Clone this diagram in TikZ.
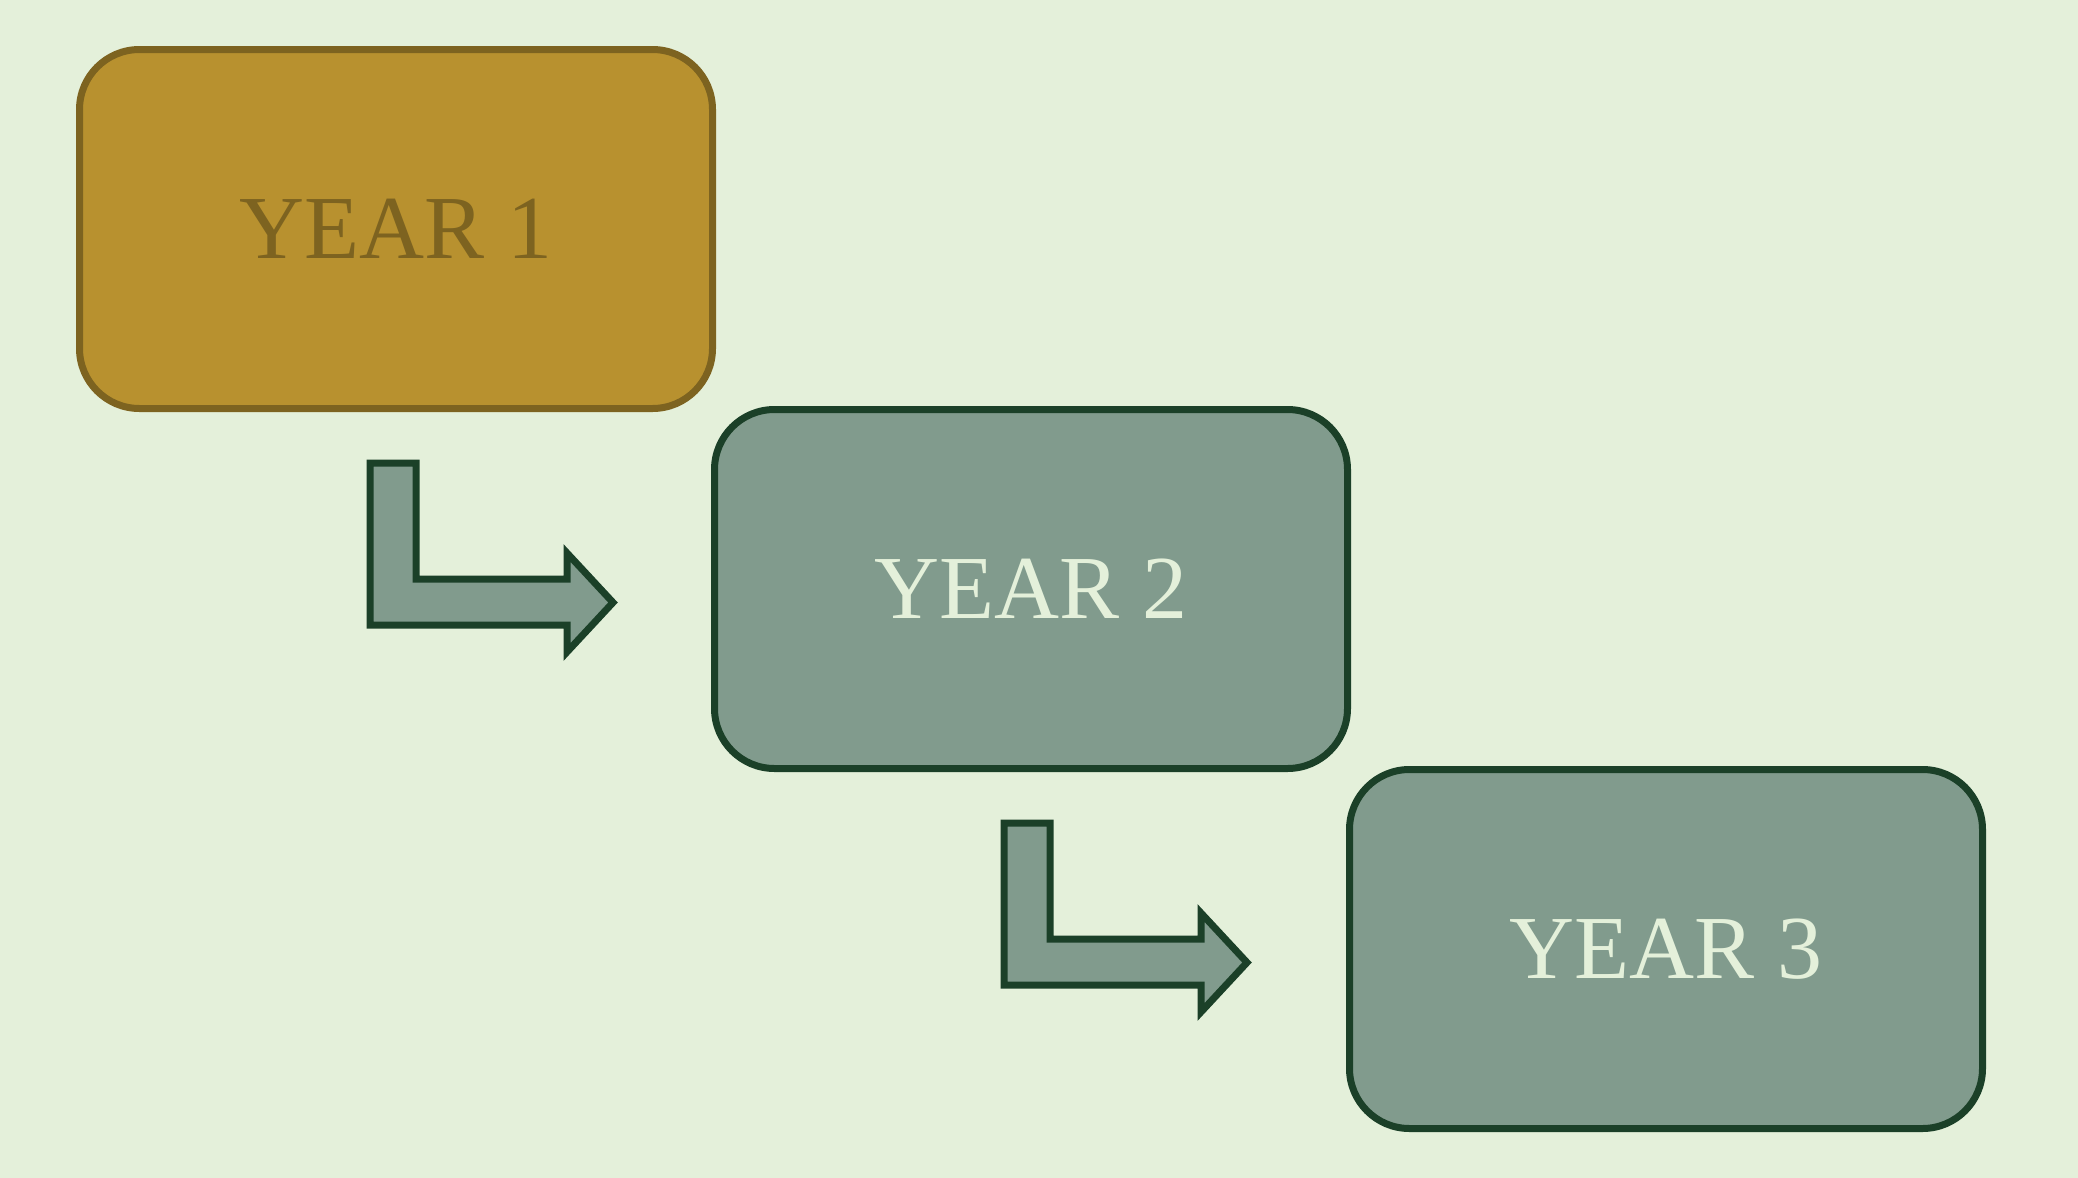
\documentclass[tikz,border=0pt]{standalone}
\usepackage{fontspec}
\setmainfont{Liberation Serif}
\definecolor{bgc}{HTML}{E4F0DA}
\definecolor{goldfill}{HTML}{B8912F}
\definecolor{golddraw}{HTML}{7D6320}
\definecolor{sagefill}{HTML}{819B8D}
\definecolor{sagedraw}{HTML}{1B4028}
\tikzset{
  yearbox/.style={draw, line width=7pt, rounded corners=60pt,
    minimum width=633pt, minimum height=359pt, inner sep=0pt,
    font=\fontsize{90}{100}\selectfont},
  goldbox/.style={yearbox, fill=goldfill, draw=golddraw, text=golddraw},
  sagebox/.style={yearbox, fill=sagefill, draw=sagedraw, text=bgc},
  bentarrow/.style={fill=sagefill, draw=sagedraw, line width=7pt, miter limit=10}
}
\begin{document}
\begin{tikzpicture}[x=1pt,y=-1pt]
  \fill[bgc] (0,0) rectangle (2078,1178);
  \useasboundingbox (0,0) rectangle (2078,1178);
  \node[goldbox] (y1) at (396,229) {YEAR 1};
  \node[sagebox] (y2) at (1031,589) {YEAR 2};
  \node[sagebox] (y3) at (1666,949) {YEAR 3};
  \coordinate (a1) at (370,463);
  \coordinate (a2) at (1004,823);
  \foreach \o in {a1,a2}{
    \draw[bentarrow] (\o) -- ++(46,0) -- ++(0,116) -- ++(151,0) -- ++(0,-26)
      -- ++(46,49.5) -- ++(-46,49.5) -- ++(0,-27) -- ++(-197,0) -- cycle;
  }
\end{tikzpicture}
\end{document}
